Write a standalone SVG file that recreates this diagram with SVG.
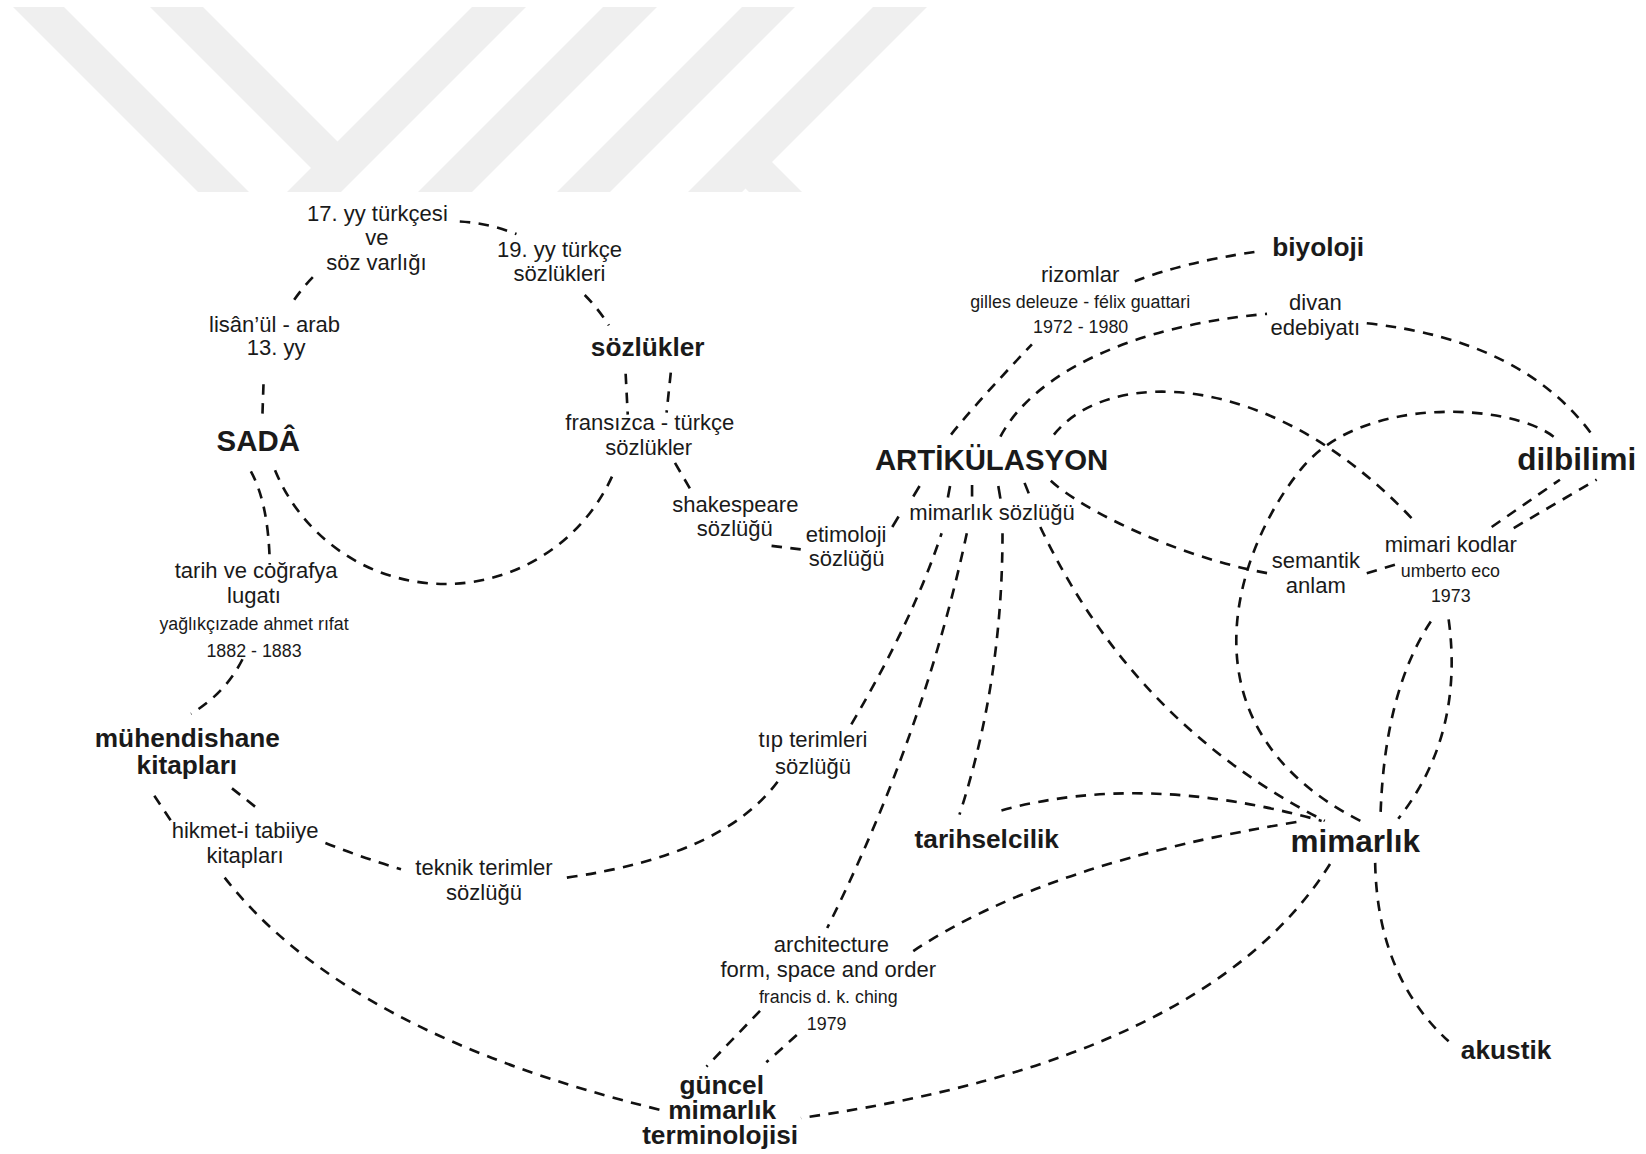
<svg xmlns="http://www.w3.org/2000/svg" width="1646" height="1154" viewBox="0 0 1646 1154">
<style>
.c{fill:none;stroke:#111;stroke-width:2.5;stroke-dasharray:10 8}
.s{fill:none;stroke:#111;stroke-width:2.5}
text{font-family:"Liberation Sans",Arial,sans-serif;fill:#1a1a1a;text-anchor:middle}
.r{font-size:21px}
.sm{font-size:17px}
.b{font-size:25px;font-weight:bold}
.B{font-size:28px;font-weight:bold}
.BB{font-size:30px;font-weight:bold}
</style>
<rect width="1646" height="1154" fill="#ffffff"/>
<g id="watermark" fill="#efefef">
<polygon points="13,7 64,7 249,192 198,192"/>
<polygon points="150,7 203,7 337.5,141.5 472,7 526,7 341,192 287,192 311,168"/>
<polygon points="603,7 657,7 472,192 418,192"/>
<polygon points="742,7 795,7 610,192 557,192"/>
<polygon points="873,7 927,7 772,162 802,192 749,192 745.5,188.5 742,192 688,192"/>
</g>
<g transform="scale(1.04974)">
<g id="connectors">
<path class="c" d="M438,211 A172,172 0 0 1 492,223"/>
<path class="c" d="M298,264 A172,172 0 0 0 278,289"/>
<path class="c" d="M557,281 A172,172 0 0 1 580,310"/>
<path class="c" d="M251,366 L250,395"/>
<path class="c" d="M262,448 A175,175 0 0 0 586,447"/>
<path class="c" d="M596,356 L598,395"/>
<path class="c" d="M639,355 L635,393"/>
<path class="c" d="M643,441 L660,470"/>
<path class="c" d="M735,520 L768,524"/>
<path class="s" d="M876,463 L870,473"/>
<path class="s" d="M856,492 L850,502"/>
<path class="c" d="M239,449 Q256,480 257,538"/>
<path class="c" d="M231,628 Q215,660 182,680"/>
<path class="c" d="M147,758 L163,782"/>
<path class="c" d="M221,751 L245,770"/>
<path class="c" d="M310,803 Q345,817 382,828"/>
<path class="c" d="M214,836 Q330,985 632,1058"/>
<path class="c" d="M540,836 Q690,815 742,743"/>
<path class="c" d="M811,690 Q870,590 897,508"/>
<path class="s" d="M905,463 L903,474"/>
<path class="c" d="M921,508 Q880,700 788,884"/>
<path class="s" d="M926,462 L926,473"/>
<path class="c" d="M955,508 Q955,650 914,776"/>
<path class="s" d="M951,463 L953,475"/>
<path class="c" d="M991,502 Q1080,690 1262,782"/>
<path class="s" d="M976,460 L980,470"/>
<path class="c" d="M1001,458 C1030,485 1120,530 1207,546"/>
<path class="c" d="M1302,546 L1332,537"/>
<path class="c" d="M906,414 Q929,385 983,328"/>
<path class="c" d="M1081,268 Q1127,250 1195,240"/>
<path class="c" d="M953,416 C985,355 1080,310 1207,299"/>
<path class="c" d="M1302,308 Q1452,324 1518,416"/>
<path class="c" d="M1004,414 C1055,350 1210,350 1346,495"/>
<path class="c" d="M1480,416 C1440,385 1300,375 1241,445 C1180,518 1115,690 1296,782"/>
<path class="c" d="M1421,502 L1486,457"/>
<path class="c" d="M1442,503 L1521,457"/>
<path class="c" d="M1363,592 Q1318,660 1315,781"/>
<path class="c" d="M1380,590 Q1395,700 1332,780"/>
<path class="c" d="M954,772 Q1090,735 1259,782"/>
<path class="c" d="M870,906 Q1000,820 1242,782"/>
<path class="c" d="M1267,823 Q1150,1010 763,1065"/>
<path class="c" d="M1310,822 Q1312,930 1380,992"/>
<path class="c" d="M724,963 L673,1016"/>
<path class="c" d="M759,986 L730,1012"/>
</g>
<g id="n17yy"><text class="r" x="359.5" y="210.6">17. yy türkçesi</text><text class="r" x="359" y="233.5">ve</text><text class="r" x="358.5" y="257">söz varlığı</text></g>
<g id="n19yy"><text class="r" x="533" y="244.5">19. yy türkçe</text><text class="r" x="533" y="268">sözlükleri</text></g>
<g id="nlisan"><text class="r" x="261.5" y="316">lisân’ül - arab</text><text class="r" x="263" y="338">13. yy</text></g>
<g id="nsada"><text class="B" x="246" y="430">SADÂ</text></g>
<g id="nsozlukler"><text class="b" x="617" y="339">sözlükler</text></g>
<g id="nfransizca"><text class="r" x="619" y="409.6">fransızca - türkçe</text><text class="r" x="618" y="433.5">sözlükler</text></g>
<g id="nshakespeare"><text class="r" x="700.5" y="487.5">shakespeare</text><text class="r" x="700" y="511">sözlüğü</text></g>
<g id="netimoloji"><text class="r" x="806" y="516">etimoloji</text><text class="r" x="806.5" y="539">sözlüğü</text></g>
<g id="nartikulasyon"><text class="B" x="944.6" y="447.7">ARTİKÜLASYON</text></g>
<g id="nmimarliksozlugu"><text class="r" x="945" y="495.4">mimarlık sözlüğü</text></g>
<g id="nrizomlar"><text class="r" x="1029" y="268.3">rizomlar</text><text class="sm" x="1029" y="293.7">gilles deleuze - félix guattari</text><text class="sm" x="1029.5" y="317.5">1972 - 1980</text></g>
<g id="nbiyoloji"><text class="b" x="1255.7" y="244">biyoloji</text></g>
<g id="ndivan"><text class="r" x="1253" y="295.3">divan</text><text class="r" x="1253" y="319">edebiyatı</text></g>
<g id="ndilbilimi"><text class="BB" x="1502" y="447.7">dilbilimi</text></g>
<g id="nmimarikodlar"><text class="r" x="1382" y="525.5">mimari kodlar</text><text class="sm" x="1381.7" y="549.4">umberto eco</text><text class="sm" x="1382" y="573.2">1973</text></g>
<g id="nsemantik"><text class="r" x="1253.5" y="541.4">semantik</text><text class="r" x="1253.5" y="565.2">anlam</text></g>
<g id="ntarih"><text class="r" x="244" y="551">tarih ve coğrafya</text><text class="r" x="242" y="574.7">lugatı</text><text class="sm" x="242" y="600">yağlıkçızade ahmet rıfat</text><text class="sm" x="242" y="625.6">1882 - 1883</text></g>
<g id="nmuhendishane"><text class="b" x="178.5" y="712">mühendishane</text><text class="b" x="178" y="737">kitapları</text></g>
<g id="nhikmet"><text class="r" x="233.5" y="798">hikmet-i tabiiye</text><text class="r" x="233.5" y="822">kitapları</text></g>
<g id="nteknik"><text class="r" x="461" y="833.6">teknik terimler</text><text class="r" x="461" y="857.5">sözlüğü</text></g>
<g id="ntip"><text class="r" x="774.5" y="712">tıp terimleri</text><text class="r" x="774.5" y="737">sözlüğü</text></g>
<g id="ntarihselcilik"><text class="b" x="940" y="808">tarihselcilik</text></g>
<g id="nmimarlik"><text class="BB" x="1291" y="811.4">mimarlık</text></g>
<g id="nakustik"><text class="b" x="1434.7" y="1008.6">akustik</text></g>
<g id="narchitecture"><text class="r" x="792" y="906.6">architecture</text><text class="r" x="789" y="930.4">form, space and order</text><text class="sm" x="789" y="955.8">francis d. k. ching</text><text class="sm" x="787.5" y="981.2">1979</text></g>
<g id="nguncel"><text class="b" x="687.5" y="1042">güncel</text><text class="b" x="688" y="1066">mimarlık</text><text class="b" x="686" y="1090">terminolojisi</text></g>
</g>
</svg>
